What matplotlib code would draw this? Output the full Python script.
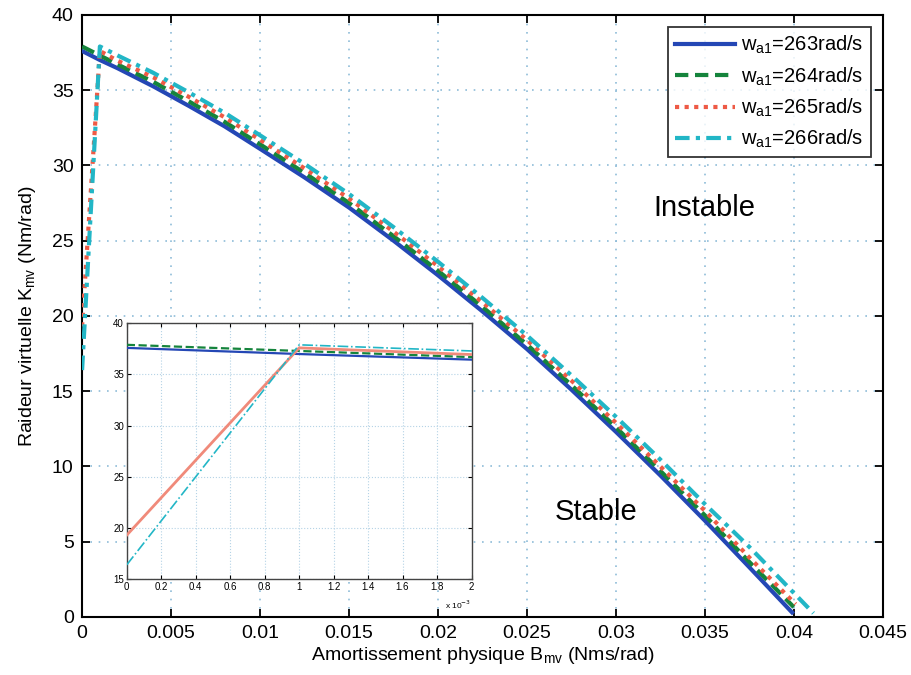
import matplotlib
matplotlib.use("Agg")
import matplotlib.pyplot as plt
from matplotlib.ticker import FuncFormatter

plt.rcParams['font.family'] = ['Liberation Sans', 'DejaVu Sans']

# ---------------- data ----------------
B_grid = [0.0, 0.001, 0.002, 0.004, 0.006, 0.008, 0.010, 0.0125, 0.015, 0.0175,
          0.020, 0.0225, 0.025, 0.0275, 0.030, 0.0325, 0.035, 0.0375]
B_end = [0.0399, 0.0400, 0.0401, 0.0411]

K_263 = [37.6, 37.0, 36.45, 35.25, 33.95, 32.6, 31.1, 29.2, 27.2, 25.0,
         22.7, 20.3, 17.8, 15.1, 12.3, 9.4, 6.4, 3.3, 0.3]
K_264 = [37.9, 37.3, 36.7, 35.55, 34.25, 32.9, 31.4, 29.5, 27.5, 25.3,
         23.0, 20.6, 18.1, 15.4, 12.6, 9.7, 6.75, 3.65, 0.65]
K_265 = [19.3, 37.6, 36.95, 35.85, 34.55, 33.2, 31.7, 29.8, 27.8, 25.6,
         23.3, 20.9, 18.4, 15.7, 12.9, 10.0, 7.05, 3.95, 0.85]
K_266 = [16.4, 37.9, 37.3, 36.15, 34.85, 33.5, 32.0, 30.1, 28.1, 25.9,
         23.6, 21.2, 18.7, 16.05, 13.3, 10.45, 7.5, 4.65, 0.25]

labels = ['w$_{\\mathregular{a1}}$=263rad/s', 'w$_{\\mathregular{a1}}$=264rad/s',
          'w$_{\\mathregular{a1}}$=265rad/s', 'w$_{\\mathregular{a1}}$=266rad/s']
series = [K_263, K_264, K_265, K_266]

colors = ['#2447b5', '#15843c', '#ee5a45', '#22b6c6']
styles = ['-', (0, (3.2, 1.6)), (0, (1, 1.3)), (0, (3.5, 1.5, 1, 1.5))]

x_ticks = [0, 0.005, 0.01, 0.015, 0.02, 0.025, 0.03, 0.035, 0.04, 0.045]
x_tick_labels = ['0', '0.005', '0.01', '0.015', '0.02', '0.025', '0.03', '0.035', '0.04', '0.045']
y_ticks = [0, 5, 10, 15, 20, 25, 30, 35, 40]
inset_x_ticks = [0, 0.0002, 0.0004, 0.0006, 0.0008, 0.001, 0.0012, 0.0014, 0.0016, 0.0018, 0.002]
inset_y_ticks = [15, 20, 25, 30, 35, 40]

# ---------------- figure ----------------
fig = plt.figure(figsize=(9.12, 6.75), dpi=100)
ax = fig.add_axes([0.090, 0.086, 0.878, 0.892])

grid_color = '#8fbcd8'
for i, K in enumerate(series):
    Bs = B_grid + [B_end[i]]
    ax.plot(Bs, K, linestyle=styles[i], color=colors[i], lw=3.0, label=labels[i],
            dash_capstyle='butt', zorder=3)

ax.set_xlim(0, 0.045)
ax.set_ylim(0, 40)
ax.set_xticks(x_ticks)
ax.set_xticklabels(x_tick_labels)
ax.set_yticks(y_ticks)
ax.tick_params(direction='in', top=True, right=True, length=6, width=1.3, labelsize=14, pad=6)
ax.grid(True, linestyle=(0, (1, 4)), color=grid_color, lw=1.2)
for s in ax.spines.values():
    s.set_linewidth(1.5)
ax.set_xlabel('Amortissement physique B$_{\\mathregular{mv}}$ (Nms/rad)', fontsize=14, labelpad=2)
ax.set_ylabel('Raideur virtuelle K$_{\\mathregular{mv}}$ (Nm/rad)', fontsize=14, labelpad=10)

leg = ax.legend(loc='upper right', fontsize=14.5, handlelength=3.0, frameon=True, fancybox=False,
                borderpad=0.35, labelspacing=0.45, handletextpad=0.3, borderaxespad=0.6)
leg.get_frame().set_edgecolor('black')
leg.get_frame().set_linewidth(1.3)

ax.text(0.0350, 27.2, 'Instable', fontsize=21, ha='center', va='center')
ax.text(0.0289, 7.0, 'Stable', fontsize=21, ha='center', va='center')

# ---------------- inset ----------------
ins = fig.add_axes([0.139, 0.142, 0.378, 0.379])
inset_styles = ['-', '--', '-', '-.']
inset_colors = ['#2447b5', '#15843c', '#f08a7a', '#22b6c6']
inset_lw = [1.6, 1.6, 2.0, 1.2]
for i, K in enumerate(series):
    Bs = B_grid + [B_end[i]]
    ins.plot(Bs, K, linestyle=inset_styles[i], color=inset_colors[i], lw=inset_lw[i], zorder=3)
ins.set_xlim(0, 0.002)
ins.set_ylim(15, 40)
ins.set_xticks(inset_x_ticks)
ins.xaxis.set_major_formatter(FuncFormatter(lambda v, p: ('%g' % round(v * 1000, 3))))
ins.set_yticks(inset_y_ticks)
ins.tick_params(direction='in', top=True, right=True, length=3, width=0.8, labelsize=7, pad=2)
ins.grid(True, linestyle=':', color='#b5d3e6', lw=0.8)
for s in ins.spines.values():
    s.set_linewidth(1.0)
    s.set_color('#444444')
ins.text(1.0, -0.075, 'x 10$^{-3}$', transform=ins.transAxes, fontsize=6, ha='right', va='top')

fig.savefig('out.png', dpi=100)
